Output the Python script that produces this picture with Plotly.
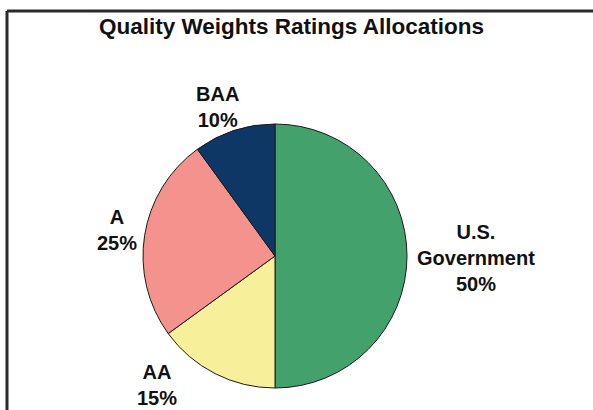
import plotly.graph_objects as go

labels = ["U.S.<br>Government", "AA", "A", "BAA"]
values = [50, 15, 25, 10]
colors = ["#43A26B", "#F8EF9A", "#F4938D", "#0E3766"]
title = "Quality Weights Ratings Allocations"

W, H = 593, 410

def px(x):
    return x / W

def py(y):
    return (H - y) / H

cx, cy, r = 275, 256, 132

fig = go.Figure(go.Pie(
    labels=labels, values=values, sort=False, direction="clockwise", rotation=0,
    marker=dict(colors=colors, line=dict(color="#1a1a1a", width=1)),
    textinfo="none", hoverinfo="label+percent", showlegend=False,
    domain=dict(x=[px(cx - r), px(cx + r)], y=[py(cy + r), py(cy - r)]),
))

# label positions (pixel centers) for each slice
label_pos = [(476, 258), (157, 385), (117, 230), (217, 107)]
for lab, val, (x, y) in zip(labels, values, label_pos):
    fig.add_annotation(x=px(x), y=py(y), xref="paper", yref="paper",
                       text=f"<b>{lab}<br>{val}%</b>", showarrow=False,
                       font=dict(family="Arial, Liberation Sans", size=20, color="#111111"),
                       align="center", xanchor="center", yanchor="middle")

fig.add_annotation(x=px(291), y=py(27), xref="paper", yref="paper",
                   text=f"<b>{title}</b>", showarrow=False,
                   font=dict(family="Arial, Liberation Sans", size=22.5, color="#111111"),
                   xanchor="center", yanchor="middle")

# frame lines (top and left)
fig.add_shape(type="line", xref="paper", yref="paper", x0=px(7), x1=1.0, y0=py(11), y1=py(11),
              line=dict(color="#2a2a2a", width=3))
fig.add_shape(type="line", xref="paper", yref="paper", x0=px(7), x1=px(7), y0=py(11), y1=0,
              line=dict(color="#2a2a2a", width=3))

fig.update_layout(width=W, height=H, margin=dict(l=0, r=0, t=0, b=0),
                  paper_bgcolor="white", plot_bgcolor="white")
fig.write_html("out.html", config={"displayModeBar": False},
               post_script="document.body.style.margin='0';")
